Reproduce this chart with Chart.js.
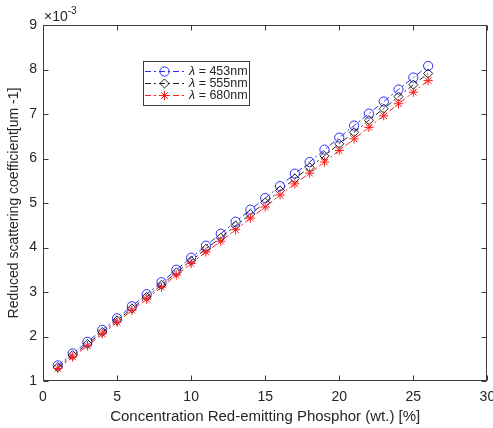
<!DOCTYPE html>
<html>
<head>
<meta charset="utf-8">
<script src="https://cdn.jsdelivr.net/npm/chart.js@4.4.1/dist/chart.umd.min.js"></script>
<style>
  html, body { margin: 0; padding: 0; background: #fff; }
  #wrap { width: 493px; height: 428px; }
</style>
</head>
<body>
<div id="wrap"><canvas id="c"></canvas></div>
<script>
/* ===== Reduced scattering vs. phosphor concentration ===== */
// concentration (wt. %)
const CONC = [1, 2, 3, 4, 5, 6, 7, 8, 9, 10, 11, 12, 13, 14, 15, 16, 17, 18, 19, 20, 21, 22, 23, 24, 25, 26];
// reduced scattering coefficient, in units of 1e-3 um^-1
const MU_453 = [1.35, 1.62, 1.88, 2.15, 2.41, 2.68, 2.95, 3.22, 3.50, 3.77, 4.04, 4.31, 4.58, 4.85, 5.11, 5.38, 5.66, 5.92, 6.20, 6.47, 6.74, 7.01, 7.28, 7.55, 7.82, 8.08];
const MU_555 = [1.31, 1.58, 1.83, 2.10, 2.36, 2.63, 2.89, 3.16, 3.44, 3.70, 3.97, 4.22, 4.49, 4.75, 5.01, 5.28, 5.55, 5.80, 6.06, 6.33, 6.59, 6.86, 7.12, 7.39, 7.66, 7.91];
const MU_680 = [1.28, 1.54, 1.79, 2.06, 2.32, 2.59, 2.84, 3.11, 3.38, 3.64, 3.90, 4.14, 4.40, 4.66, 4.91, 5.18, 5.43, 5.67, 5.92, 6.18, 6.44, 6.70, 6.96, 7.23, 7.49, 7.75];
const WAVELENGTHS = ['453nm', '555nm', '680nm'];

const X_TICKS = { min: 0, max: 30, step: 5 };
const Y_TICKS = { min: 1, max: 9, step: 1 };
const Y_EXPONENT = '-3';

const AXIS = '#3a3a3a';
const TXT = '#262626';
const FONT = "'Liberation Sans', Arial, sans-serif";
const DASHDOT = [6, 3, 2, 3];

const SERIES = [
  { name: WAVELENGTHS[0], data: MU_453, color: '#2b2bff', style: 'circle', radius: 4.6, order: 3 },
  { name: WAVELENGTHS[1], data: MU_555, color: '#222222', style: 'rectRot', radius: 4.6, order: 2 },
  { name: WAVELENGTHS[2], data: MU_680, color: '#ff1a1a', style: 'star', radius: 4.6, order: 1 },
];

function ds(s) {
  return {
    label: s.name,
    data: CONC.map((x, i) => ({ x: x, y: s.data[i] })),
    borderColor: s.color,
    backgroundColor: 'rgba(0,0,0,0)',
    borderWidth: 1,
    borderDash: DASHDOT,
    pointStyle: s.style,
    pointRadius: s.radius,
    pointBorderColor: s.color,
    pointBackgroundColor: 'rgba(0,0,0,0)',
    pointBorderWidth: 1,
    tension: 0,
    fill: false,
    order: s.order,
  };
}

// MATLAB-artiger Rahmen mit nach innen zeigenden Ticks
const boxPlugin = {
  id: 'box',
  afterDatasetsDraw(chart) {
    const { ctx, chartArea: a, scales } = chart;
    const L = Math.round(a.left) + 0.5, R = Math.round(a.right) - 0.5;
    const T = Math.round(a.top) + 0.5, B = Math.round(a.bottom) - 0.5;
    ctx.save();
    ctx.strokeStyle = AXIS;
    ctx.lineWidth = 1;
    ctx.setLineDash([]);
    ctx.strokeRect(L, T, R - L, B - T);
    const tl = 5;
    ctx.beginPath();
    scales.x.ticks.forEach(t => {
      const px = Math.round(scales.x.getPixelForValue(t.value)) + 0.5;
      ctx.moveTo(px, B); ctx.lineTo(px, B - tl);
      ctx.moveTo(px, T); ctx.lineTo(px, T + tl);
    });
    scales.y.ticks.forEach(t => {
      const py = Math.round(scales.y.getPixelForValue(t.value)) + 0.5;
      ctx.moveTo(L, py); ctx.lineTo(L + tl, py);
      ctx.moveTo(R, py); ctx.lineTo(R - tl, py);
    });
    ctx.stroke();

    // Exponent über der y-Achse
    ctx.fillStyle = TXT;
    ctx.textBaseline = 'alphabetic';
    ctx.textAlign = 'left';
    ctx.font = '14px ' + FONT;
    const base = a.top - 4;
    ctx.fillText('\u00d710', a.left + 1, base);
    const w = ctx.measureText('\u00d710').width;
    ctx.font = '10px ' + FONT;
    ctx.fillText(Y_EXPONENT, a.left + 1 + w, base - 7);
    ctx.restore();
  },
};

// Legende im Plot (Linie + Marker + Text)
const legendPlugin = {
  id: 'boxLegend',
  afterDraw(chart) {
    const { ctx } = chart;
    const bx = 143.5, by = 61.5, bw = 106, bh = 44;
    ctx.save();
    ctx.fillStyle = '#fff';
    ctx.fillRect(bx, by, bw, bh);
    ctx.strokeStyle = AXIS;
    ctx.lineWidth = 1;
    ctx.strokeRect(bx, by, bw, bh);
    SERIES.forEach((s, i) => {
      const y = 71.5 + i * 12;
      ctx.strokeStyle = s.color;
      ctx.lineWidth = 1;
      ctx.setLineDash(DASHDOT);
      ctx.beginPath();
      ctx.moveTo(145, y); ctx.lineTo(184, y);
      ctx.stroke();
      ctx.setLineDash([]);
      ctx.fillStyle = 'rgba(0,0,0,0)';
      Chart.helpers.drawPoint(ctx, { pointStyle: s.style, radius: s.radius, rotation: 0, borderWidth: 1 }, 164.5, y);
      ctx.fillStyle = TXT;
      ctx.textBaseline = 'middle';
      ctx.textAlign = 'left';
      ctx.font = 'italic 12.5px ' + FONT;
      ctx.fillText('\u03bb', 189, y);
      const lw = ctx.measureText('\u03bb').width;
      ctx.font = '12.5px ' + FONT;
      ctx.fillText(' = ' + s.name, 189 + lw, y);
    });
    ctx.restore();
  },
};

new Chart(document.getElementById('c'), {
  type: 'line',
  data: { datasets: SERIES.map(ds) },
  options: {
    responsive: true,
    maintainAspectRatio: false,
    animation: false,
    devicePixelRatio: 1,
    layout: { padding: { left: 0, right: 5, top: 25, bottom: 0 } },
    plugins: { legend: { display: false }, tooltip: { enabled: false } },
    scales: {
      x: {
        type: 'linear',
        min: X_TICKS.min, max: X_TICKS.max,
        grid: { display: false, drawTicks: false },
        border: { display: false },
        ticks: { stepSize: X_TICKS.step, color: TXT, font: { family: FONT, size: 14 }, padding: 8, maxRotation: 0 },
        title: { display: true, text: 'Concentration Red-emitting Phosphor (wt.) [%]', color: TXT, font: { family: FONT, size: 15 }, padding: { top: 0, bottom: 2 } },
        afterFit(s) { s.height = 47; s.paddingLeft = 0; s.paddingRight = 0; },
      },
      y: {
        type: 'linear',
        min: Y_TICKS.min, max: Y_TICKS.max,
        grid: { display: false, drawTicks: false },
        border: { display: false },
        ticks: { stepSize: Y_TICKS.step, color: TXT, font: { family: FONT, size: 14 }, padding: 6 },
        title: { display: true, text: 'Reduced scattering coefficient[um -1]', color: TXT, font: { family: FONT, size: 14 }, padding: { top: 6, bottom: 0 } },
        afterFit(s) { s.width = 43; s.paddingTop = 0; s.paddingBottom = 0; },
      },
    },
  },
  plugins: [boxPlugin, legendPlugin],
});
</script>
</body>
</html>
